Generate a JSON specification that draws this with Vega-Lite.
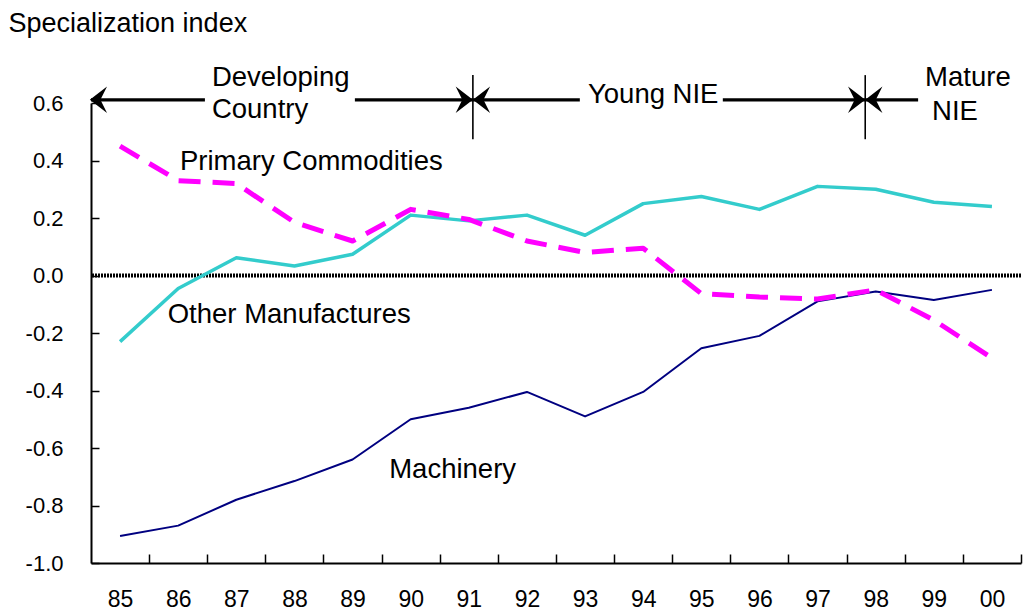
{
  "$schema": "https://vega.github.io/schema/vega-lite/v6.json",
  "width": 930,
  "height": 460,
  "autosize": {"type": "none"},
  "padding": {"left": 91, "top": 103, "right": 3, "bottom": 51},
  "background": "white",
  "config": {"view": {"stroke": null}, "font": "Liberation Sans"},
  "datasets": {
    "series": [
      {"year": 85, "value": -0.23, "series": "Other Manufactures"},
      {"year": 86, "value": -0.045, "series": "Other Manufactures"},
      {"year": 87, "value": 0.062, "series": "Other Manufactures"},
      {"year": 88, "value": 0.033, "series": "Other Manufactures"},
      {"year": 89, "value": 0.074, "series": "Other Manufactures"},
      {"year": 90, "value": 0.21, "series": "Other Manufactures"},
      {"year": 91, "value": 0.19, "series": "Other Manufactures"},
      {"year": 92, "value": 0.21, "series": "Other Manufactures"},
      {"year": 93, "value": 0.14, "series": "Other Manufactures"},
      {"year": 94, "value": 0.25, "series": "Other Manufactures"},
      {"year": 95, "value": 0.275, "series": "Other Manufactures"},
      {"year": 96, "value": 0.23, "series": "Other Manufactures"},
      {"year": 97, "value": 0.31, "series": "Other Manufactures"},
      {"year": 98, "value": 0.30, "series": "Other Manufactures"},
      {"year": 99, "value": 0.255, "series": "Other Manufactures"},
      {"year": 100, "value": 0.24, "series": "Other Manufactures"},
      {"year": 85, "value": 0.45, "series": "Primary Commodities"},
      {"year": 86, "value": 0.33, "series": "Primary Commodities"},
      {"year": 87, "value": 0.32, "series": "Primary Commodities"},
      {"year": 88, "value": 0.185, "series": "Primary Commodities"},
      {"year": 89, "value": 0.12, "series": "Primary Commodities"},
      {"year": 90, "value": 0.23, "series": "Primary Commodities"},
      {"year": 91, "value": 0.195, "series": "Primary Commodities"},
      {"year": 92, "value": 0.12, "series": "Primary Commodities"},
      {"year": 93, "value": 0.08, "series": "Primary Commodities"},
      {"year": 94, "value": 0.095, "series": "Primary Commodities"},
      {"year": 95, "value": -0.063, "series": "Primary Commodities"},
      {"year": 96, "value": -0.075, "series": "Primary Commodities"},
      {"year": 97, "value": -0.082, "series": "Primary Commodities"},
      {"year": 98, "value": -0.05, "series": "Primary Commodities"},
      {"year": 99, "value": -0.155, "series": "Primary Commodities"},
      {"year": 100, "value": -0.287, "series": "Primary Commodities"},
      {"year": 85, "value": -0.906, "series": "Machinery"},
      {"year": 86, "value": -0.87, "series": "Machinery"},
      {"year": 87, "value": -0.78, "series": "Machinery"},
      {"year": 88, "value": -0.715, "series": "Machinery"},
      {"year": 89, "value": -0.64, "series": "Machinery"},
      {"year": 90, "value": -0.50, "series": "Machinery"},
      {"year": 91, "value": -0.46, "series": "Machinery"},
      {"year": 92, "value": -0.405, "series": "Machinery"},
      {"year": 93, "value": -0.49, "series": "Machinery"},
      {"year": 94, "value": -0.405, "series": "Machinery"},
      {"year": 95, "value": -0.253, "series": "Machinery"},
      {"year": 96, "value": -0.21, "series": "Machinery"},
      {"year": 97, "value": -0.09, "series": "Machinery"},
      {"year": 98, "value": -0.056, "series": "Machinery"},
      {"year": 99, "value": -0.085, "series": "Machinery"},
      {"year": 100, "value": -0.05, "series": "Machinery"}
    ],
    "segments": [
      {"x": 84.5, "x2": 86.46, "y": 0.611},
      {"x": 89.04, "x2": 91.07, "y": 0.611},
      {"x": 91.07, "x2": 92.91, "y": 0.611},
      {"x": 95.37, "x2": 97.82, "y": 0.611},
      {"x": 97.82, "x2": 98.73, "y": 0.611}
    ],
    "separators": [
      {"x": 91.07, "y": 0.697, "y2": 0.474},
      {"x": 97.82, "y": 0.697, "y2": 0.474}
    ],
    "heads": [
      {"x": 84.48, "y": 0.611, "dir": "left"},
      {"x": 91.07, "y": 0.611, "dir": "right"},
      {"x": 91.07, "y": 0.611, "dir": "left"},
      {"x": 97.82, "y": 0.611, "dir": "right"},
      {"x": 97.82, "y": 0.611, "dir": "left"}
    ],
    "labels": [
      {"x": 86.58, "y": 0.687, "label": "Developing"},
      {"x": 86.58, "y": 0.576, "label": "Country"},
      {"x": 93.05, "y": 0.628, "label": "Young NIE"},
      {"x": 98.85, "y": 0.687, "label": "Mature"},
      {"x": 98.97, "y": 0.569, "label": "NIE"},
      {"x": 86.03, "y": 0.395, "label": "Primary Commodities"},
      {"x": 85.82, "y": -0.137, "label": "Other Manufactures"},
      {"x": 89.63, "y": -0.677, "label": "Machinery"}
    ]
  },
  "layer": [
    {
      "data": {"name": "series"},
      "transform": [{"filter": "datum.series === 'Machinery'"}],
      "mark": {"type": "line", "strokeJoin": "round", "color": "#000080", "strokeWidth": 2},
      "encoding": {
        "x": {
          "field": "year", "type": "quantitative",
          "scale": {"domain": [84.5, 100.5], "nice": false, "zero": false},
          "axis": {
            "title": null,
            "orient": "bottom",
            "values": [85, 86, 87, 88, 89, 90, 91, 92, 93, 94, 95, 96, 97, 98, 99, 100],
            "labelExpr": "datum.value >= 100 ? '00' : '' + datum.value",
            "labelOverlap": false,
            "labelBound": false,
            "labelFlush": false,
            "labelFontSize": 23,
            "labelColor": "black",
            "labelFont": "Liberation Sans",
            "labelPadding": 34,
            "labelOffset": -29.06,
            "tickOffset": 29.06,
            "tickSize": -9,
            "tickWidth": 1.5,
            "tickColor": "black",
            "domainColor": "black",
            "domainWidth": 2,
            "grid": false
          }
        },
        "y": {
          "field": "value", "type": "quantitative",
          "scale": {"domain": [-1, 0.6], "nice": false, "zero": false},
          "axis": {
            "title": "Specialization index",
            "titleAngle": 0,
            "titleAlign": "left",
            "titleBaseline": "middle",
            "titleX": -83,
            "titleY": -80,
            "titleFontSize": 27,
            "titleFontWeight": "normal",
            "titleFont": "Liberation Sans",
            "titleColor": "black",
            "values": [-1, -0.8, -0.6, -0.4, -0.2, 0, 0.2, 0.4, 0.6],
            "labelExpr": "(datum.value < -0.001 ? '-' : '') + format(abs(datum.value), '.1f')",
            "labelFontSize": 22,
            "labelColor": "black",
            "labelFont": "Liberation Sans",
            "labelPadding": 36,
            "tickSize": -8,
            "tickWidth": 1.5,
            "tickColor": "black",
            "domainColor": "black",
            "domainWidth": 2,
            "grid": false
          }
        }
      }
    },
    {
      "data": {"values": [{}]},
      "mark": {"type": "rule", "color": "black", "strokeWidth": 4, "strokeDash": [2, 1]},
      "encoding": {
        "y": {"datum": 0, "type": "quantitative"}
      }
    },
    {
      "data": {"name": "series"},
      "transform": [{"filter": "datum.series === 'Other Manufactures'"}],
      "mark": {"type": "line", "strokeJoin": "round", "color": "#33CCCC", "strokeWidth": 3.5},
      "encoding": {
        "x": {"field": "year", "type": "quantitative"},
        "y": {"field": "value", "type": "quantitative"}
      }
    },
    {
      "data": {"name": "series"},
      "transform": [{"filter": "datum.series === 'Primary Commodities'"}],
      "mark": {"type": "line", "strokeJoin": "round", "color": "#FF00FF", "strokeWidth": 5, "strokeDash": [22, 12]},
      "encoding": {
        "x": {"field": "year", "type": "quantitative"},
        "y": {"field": "value", "type": "quantitative"}
      }
    },
    {
      "data": {"name": "segments"},
      "mark": {"type": "rule", "color": "black", "strokeWidth": 3.2},
      "encoding": {
        "x": {"field": "x", "type": "quantitative"},
        "x2": {"field": "x2"},
        "y": {"field": "y", "type": "quantitative"}
      }
    },
    {
      "data": {"name": "separators"},
      "mark": {"type": "rule", "color": "black", "strokeWidth": 1.6},
      "encoding": {
        "x": {"field": "x", "type": "quantitative"},
        "y": {"field": "y", "type": "quantitative"},
        "y2": {"field": "y2"}
      }
    },
    {
      "data": {"name": "heads"},
      "mark": {"type": "point", "filled": true, "opacity": 1, "color": "black", "strokeWidth": 0, "size": 700},
      "encoding": {
        "x": {"field": "x", "type": "quantitative"},
        "y": {"field": "y", "type": "quantitative"},
        "shape": {
          "field": "dir", "type": "nominal",
          "scale": {"domain": ["left", "right"], "range": ["M0,0L1.3,-1L0.8,0L1.3,1Z", "M0,0L-1.3,-1L-0.8,0L-1.3,1Z"]},
          "legend": null
        }
      }
    },
    {
      "data": {"name": "labels"},
      "mark": {"type": "text", "align": "left", "baseline": "middle", "fontSize": 27.5, "font": "Liberation Sans", "color": "black"},
      "encoding": {
        "x": {"field": "x", "type": "quantitative"},
        "y": {"field": "y", "type": "quantitative"},
        "text": {"field": "label"}
      }
    }
  ]
}
